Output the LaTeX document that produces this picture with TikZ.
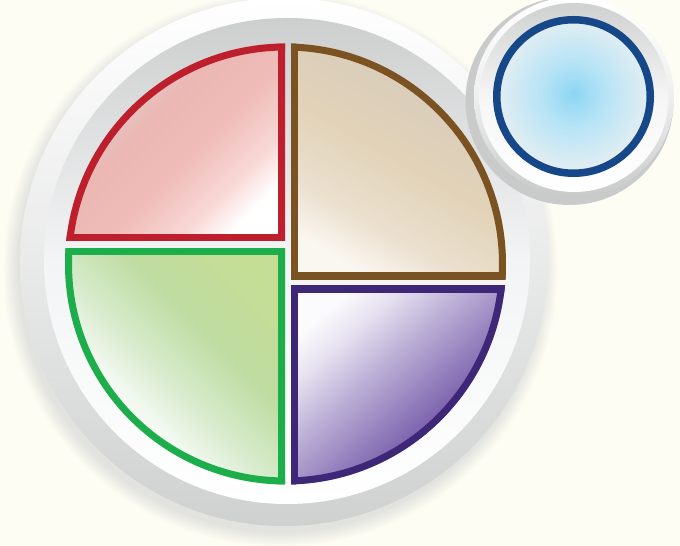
\documentclass[tikz,border=0pt]{standalone}
\definecolor{bg}{HTML}{FDFDF3}
\definecolor{shgray}{HTML}{E2E2DF}
\definecolor{rimgray}{HTML}{CFD0D0}
\definecolor{wellgray}{HTML}{CDCECE}
\definecolor{wellmid}{HTML}{F3F4F5}
\definecolor{redline}{HTML}{BD1F2C}
\definecolor{brownline}{HTML}{7B5221}
\definecolor{greenline}{HTML}{1CAE4B}
\definecolor{purpleline}{HTML}{3E2777}
\definecolor{blueline}{HTML}{164889}
\definecolor{redA}{HTML}{F8D8D6}
\definecolor{redB}{HTML}{F0BCB8}
\definecolor{redC}{HTML}{EBB7B3}
\definecolor{redD}{HTML}{E3CDCC}
\definecolor{redE}{HTML}{DDD6D6}
\definecolor{brA}{HTML}{FAF6F0}
\definecolor{brB}{HTML}{EBE0CF}
\definecolor{brC}{HTML}{E2D3B8}
\definecolor{brD}{HTML}{DACDBA}
\definecolor{brE}{HTML}{D4CBC0}
\definecolor{grA}{HTML}{F3F9F1}
\definecolor{grB}{HTML}{D5EAC9}
\definecolor{grC}{HTML}{BFDCA2}
\definecolor{grD}{HTML}{C4DE96}
\definecolor{puA}{HTML}{5E3F94}
\definecolor{puB}{HTML}{7356A6}
\definecolor{puC}{HTML}{9480BD}
\definecolor{puD}{HTML}{BFB3D8}
\definecolor{puE}{HTML}{E6E1F0}
\definecolor{puF}{HTML}{FBFAFD}
\definecolor{blueC}{HTML}{8CD5F3}
\definecolor{blueM}{HTML}{B5E3F6}
\definecolor{blueE}{HTML}{E4EEF2}
\definecolor{cupshadow}{HTML}{C9CACA}
\definecolor{cuprim}{HTML}{C8C9C9}
\definecolor{cupwell}{HTML}{CFD0D0}
\pgfdeclareverticalshading{redsh}{100bp}{color(0bp)=(white); color(25bp)=(white); color(33bp)=(redA); color(45bp)=(redB); color(58bp)=(redC); color(68bp)=(redD); color(75bp)=(redE); color(100bp)=(redE)}
\pgfdeclareverticalshading{brownsh}{100bp}{color(0bp)=(brA); color(25bp)=(brA); color(35bp)=(brB); color(50bp)=(brC); color(65bp)=(brD); color(75bp)=(brE); color(100bp)=(brE)}
\pgfdeclareverticalshading{greensh}{100bp}{color(0bp)=(white); color(25bp)=(white); color(38bp)=(grA); color(48bp)=(grB); color(60bp)=(grC); color(75bp)=(grD); color(100bp)=(grD)}
\pgfdeclareverticalshading{purplesh}{100bp}{color(0bp)=(puA); color(25bp)=(puA); color(35bp)=(puB); color(45bp)=(puC); color(57bp)=(puD); color(67bp)=(puE); color(75bp)=(puF); color(100bp)=(puF)}
\pgfdeclareradialshading{plateshadow}{\pgfpoint{0bp}{0bp}}{color(0bp)=(shgray); color(23.6bp)=(shgray); color(25bp)=(bg); color(50bp)=(bg)}
\pgfdeclareradialshading{cupblue}{\pgfpoint{0bp}{1bp}}{color(0bp)=(blueC); color(10bp)=(blueM); color(25bp)=(blueE); color(50bp)=(blueE)}
\tikzset{
  piecestroke/.style={line width=14pt, line join=miter},
}
\begin{document}
\begin{tikzpicture}[x=1pt,y=1pt]
\useasboundingbox (0,0) rectangle (680,546);
\fill[bg] (0,0) rectangle (680,546);
% plate
\coordinate (pc) at (285.5,282);
\shade[shading=plateshadow] (280,277) circle (278);
\shade[top color=white, bottom color=rimgray, middle color=white!55!rimgray] (284,284) circle (264);
\shade[top color=wellgray, bottom color=white, middle color=wellmid] (287,285) circle (243);
% red piece
\begin{scope}
  \clip (pc) circle (220.5);
  \clip (0,305.3) rectangle (285,546);
  \shade[shading=redsh, shading angle=45] (65,305.3) rectangle (285,502.5);
  \draw[piecestroke, redline] (pc) circle (220.5);
  \draw[piecestroke, redline] (285,546) -- (285,305.3) -- (0,305.3);
\end{scope}
% green piece
\begin{scope}
  \clip (pc) circle (220.5);
  \clip (0,0) rectangle (285,297.7);
  \shade[shading=greensh, shading angle=-45] (65,61.5) rectangle (285,297.7);
  \draw[piecestroke, greenline] (pc) circle (220.5);
  \draw[piecestroke, greenline] (285,0) -- (285,297.7) -- (0,297.7);
\end{scope}
% brown piece
\begin{scope}
  \clip (pc) circle (220.5);
  \clip (291,266.7) rectangle (680,546);
  \shade[shading=brownsh, shading angle=-30] (291,266.7) rectangle (506,502.5);
  \draw[piecestroke, brownline] (pc) circle (220.5);
  \draw[piecestroke, brownline] (291,546) -- (291,266.7) -- (680,266.7);
\end{scope}
% purple piece
\begin{scope}
  \clip (pc) circle (220.5);
  \clip (291,0) rectangle (680,260.3);
  \shade[shading=purplesh, shading angle=42] (291,61.5) rectangle (506,260.3);
  \draw[piecestroke, purpleline] (pc) circle (220.5);
  \draw[piecestroke, purpleline] (291,0) -- (291,260.3) -- (680,260.3);
\end{scope}
% cup
\coordinate (cc) at (573.5,449.5);
\fill[cupshadow] (569.5,445) circle (104);
\shade[top color=white, bottom color=cuprim, middle color=white!70!cuprim] (574,449) circle (100);
\shade[top color=cupwell, bottom color=white, middle color=white!80!cupwell] (574,448.5) circle (94.5);
\shade[shading=cupblue] (cc) circle (77);
\draw[blueline, line width=7.5pt] (cc) circle (76.75);
\end{tikzpicture}
\end{document}
